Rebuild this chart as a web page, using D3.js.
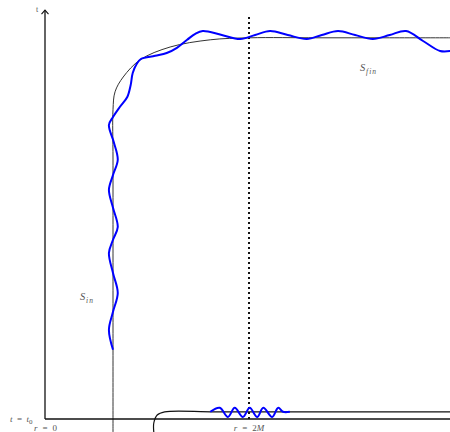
<!DOCTYPE html>
<html>
<head>
<meta charset="utf-8">
<script src="https://cdn.jsdelivr.net/npm/d3@7"></script>
<style>
  html, body { margin: 0; padding: 0; background: #fff; }
  svg { display: block; }
  text { font-family: "Liberation Serif", "DejaVu Serif", serif; fill: #555; }
</style>
</head>
<body>
<svg id="chart" width="450" height="432"></svg>
<script>
// r in units of M, t in arbitrary time units (t = 0 at t_0)
const sInR = [0, -0.06, 0, 0.07, 0, -0.06, 0, 0.07, 0, -0.06, 0, 0.07, 0.01, -0.06, 0, 0.10, 0.21, 0.26, 0.29, 0.35, 0.41, 0.62, 0.79, 0.94, 1.09, 1.21, 1.32, 1.60, 1.87, 2.09, 2.31, 2.57, 2.85, 3.07, 3.31, 3.56, 3.82, 4.07, 4.31, 4.56, 4.81, 4.96];
const sInT = [1.73, 2.23, 2.68, 3.15, 3.65, 4.15, 4.48, 4.80, 5.28, 5.73, 6.10, 6.48, 6.93, 7.35, 7.55, 7.80, 8.05, 8.35, 8.65, 8.88, 9.00, 9.08, 9.15, 9.28, 9.48, 9.63, 9.70, 9.60, 9.50, 9.60, 9.70, 9.60, 9.50, 9.60, 9.70, 9.60, 9.50, 9.60, 9.70, 9.45, 9.20, 9.20];

const surfR = [0, 0, 0, 0, 0.03, 0.15, 0.40, 0.84, 1.43, 2.01, 3.0, 4.0, 4.96];
const surfT = [-0.33, 3.0, 6.5, 7.73, 8.18, 8.55, 8.98, 9.30, 9.48, 9.53, 9.53, 9.53, 9.53];

const lowR = [0.60, 0.60, 0.65, 0.76, 1.5, 3.0, 4.96];
const lowT = [-0.33, -0.10, 0.10, 0.18, 0.18, 0.18, 0.18];

const waveR = [1.43, 1.57, 1.69, 1.79, 1.91, 2.01, 2.12, 2.21, 2.34, 2.43, 2.50, 2.60];
const waveT = [0.18, 0.28, 0.05, 0.28, 0.05, 0.28, 0.05, 0.28, 0.05, 0.28, 0.18, 0.18];

const horizonR = 2;      // r = 2M
const axisR = -1;        // position of t axis
const rMax = 4.96;
const tTop = 10.22;

const svg = d3.select("#chart");
const x = d3.scaleLinear().domain([0, 2]).range([113, 249]);
const y = d3.scaleLinear().domain([0, 10]).range([419, 19]);

const zip = (rs, ts) => rs.map((r, i) => [r, ts[i]]);
const line = d3.line().x(d => x(d[0])).y(d => y(d[1])).curve(d3.curveCatmullRom.alpha(0.5));
const straight = d3.line().x(d => x(d[0])).y(d => y(d[1]));

// r = 0 vertical line and the black surface
svg.append("path").attr("d", line(zip(surfR, surfT)))
  .attr("fill", "none").attr("stroke", "#333").attr("stroke-width", 1);

// lower rounded line
svg.append("path").attr("d", line(zip(lowR, lowT)))
  .attr("fill", "none").attr("stroke", "#111").attr("stroke-width", 1.2);

// axes
svg.append("path").attr("d", straight([[axisR, 0], [rMax, 0]]))
  .attr("stroke", "#111").attr("stroke-width", 1.3).attr("fill", "none");
svg.append("path").attr("d", straight([[axisR, 0], [axisR, tTop]]))
  .attr("stroke", "#111").attr("stroke-width", 1.3).attr("fill", "none");
// arrow head
const ax = x(axisR), ay = y(tTop);
svg.append("path").attr("d", `M${ax - 3.5},${ay + 4} L${ax},${ay} L${ax + 3.5},${ay + 4}`)
  .attr("stroke", "#111").attr("stroke-width", 1.1).attr("fill", "none");

// dotted r = 2M line
svg.append("path").attr("d", straight([[horizonR, 0], [horizonR, 10.1]]))
  .attr("stroke", "#111").attr("stroke-width", 2).attr("stroke-dasharray", "2,3").attr("fill", "none");

// blue curves
svg.append("path").attr("d", line(zip(sInR, sInT)))
  .attr("fill", "none").attr("stroke", "#0000ff").attr("stroke-width", 2);
svg.append("path").attr("d", line(zip(waveR, waveT)))
  .attr("fill", "none").attr("stroke", "#0000ff").attr("stroke-width", 2);

// labels
svg.append("text").attr("x", ax - 9).attr("y", ay + 1.5).attr("font-size", 8).text("t");

const t0 = svg.append("text").attr("x", 10).attr("y", 421.5).attr("font-size", 9);
t0.append("tspan").attr("font-style", "italic").text("t");
t0.append("tspan").attr("dx", 4.5).text("=");
t0.append("tspan").attr("dx", 4.5).attr("font-style", "italic").text("t");
t0.append("tspan").attr("dy", 2).attr("font-size", 7).text("0");

function rLabel(cx, val) {
  const t = svg.append("text").attr("x", cx).attr("y", 431).attr("font-size", 9).attr("text-anchor", "middle");
  t.append("tspan").attr("font-style", "italic").text("r");
  t.append("tspan").attr("dx", 5).text("=");
  t.append("tspan").attr("dx", 5).text(val[0]);
  if (val[1]) t.append("tspan").attr("font-style", "italic").text(val[1]);
}
rLabel(x(0) - 67.5, ["0"]);
rLabel(x(horizonR), ["2", "M"]);

function sLabel(px, py, sub) {
  const t = svg.append("text").attr("x", px).attr("y", py).attr("font-size", 10.5).attr("font-style", "italic");
  t.append("tspan").text("S");
  t.append("tspan").attr("dy", 2.5).attr("dx", 0.8).attr("font-size", 7.5).attr("letter-spacing", 1).text(sub);
}
sLabel(80, 300, "in");
sLabel(360, 71, "fin");
</script>
</body>
</html>
